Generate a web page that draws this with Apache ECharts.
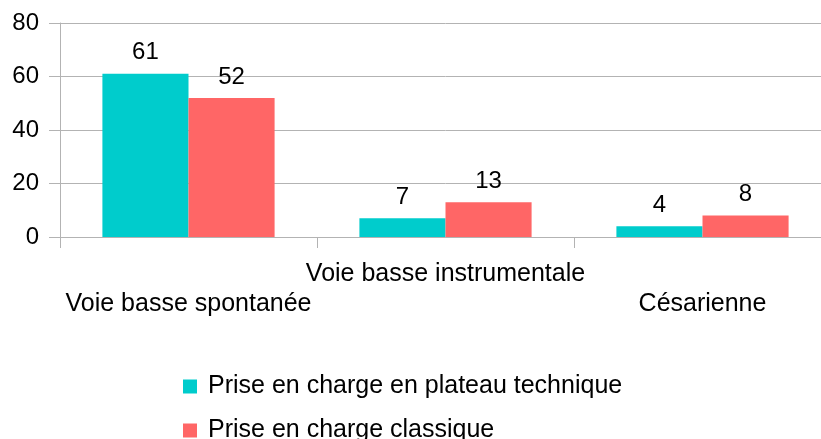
<!DOCTYPE html>
<html>
<head>
<meta charset="UTF-8">
<title>Prise en charge</title>
<script src="https://cdn.jsdelivr.net/npm/echarts@6/dist/echarts.min.js"></script>
<style>
  html, body { margin: 0; padding: 0; background: #fff; overflow: hidden; }
  #main { width: 831px; height: 470px; }
</style>
</head>
<body>
<div id="main"></div>
<script>
var categories = ['Voie basse spontanée', 'Voie basse instrumentale', 'Césarienne'];
var seriesNames = ['Prise en charge en plateau technique', 'Prise en charge classique'];
var plateauValues = [61, 7, 4];
var classiqueValues = [52, 13, 8];
var yTicks = { min: 0, max: 80, interval: 20 };

var font = 'Liberation Sans, Arial, sans-serif';
var gray = '#b3b3b3';

var myChart = echarts.init(document.getElementById('main'));
var option = {
    animation: false,
    textStyle: { fontFamily: font },
    grid: { left: 60, right: 0, top: 23, bottom: 233, containLabel: false },
    legend: {
        orient: 'vertical',
        left: 183,
        top: 374,
        padding: 0,
        itemWidth: 14,
        itemHeight: 14,
        itemGap: 19,
        icon: 'rect',
        textStyle: { fontSize: 25, color: '#000', fontFamily: font, padding: [0, 0, 0, 6] },
        data: seriesNames
    },
    xAxis: {
        type: 'category',
        data: categories,
        axisLine: { lineStyle: { color: gray } },
        axisTick: { show: true, length: 11, lineStyle: { color: gray } },
        axisLabel: {
            interval: 0,
            margin: 22,
            fontSize: 25,
            color: '#000',
            lineHeight: 30,
            formatter: function (v, i) { return i % 2 === 0 ? '\n' + v : v; }
        }
    },
    yAxis: {
        type: 'value',
        min: yTicks.min,
        max: yTicks.max,
        interval: yTicks.interval,
        axisLine: { show: true, lineStyle: { color: gray } },
        axisTick: { show: true, length: 11, lineStyle: { color: gray } },
        splitLine: { lineStyle: { color: gray } },
        axisLabel: { margin: 21, fontSize: 24, color: '#000' }
    },
    series: [
        {
            name: seriesNames[0],
            type: 'bar',
            data: plateauValues,
            barGap: '0%',
            barCategoryGap: '33%',
            itemStyle: { color: '#00cccc' },
            label: { show: true, position: 'top', distance: 9, fontSize: 24, color: '#000' }
        },
        {
            name: seriesNames[1],
            type: 'bar',
            data: classiqueValues,
            barGap: '0%',
            barCategoryGap: '33%',
            itemStyle: { color: '#ff6666' },
            label: { show: true, position: 'top', distance: 9, fontSize: 24, color: '#000' }
        }
    ]
};
myChart.setOption(option);
</script>
</body>
</html>
